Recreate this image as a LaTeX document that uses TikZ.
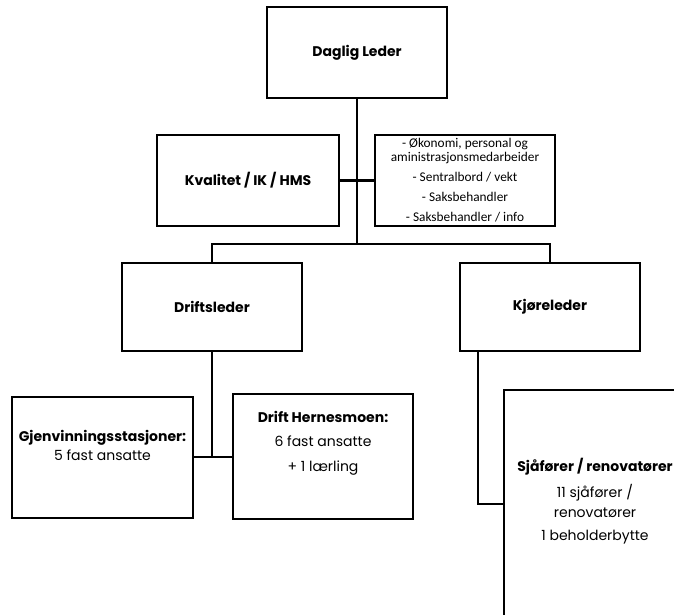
\documentclass[tikz,border=0pt]{standalone}
\usepackage{fontspec}
\setmainfont{Poppins}
\newfontfamily\calfont{Carlito}
\usetikzlibrary{positioning}

\begin{document}
\begin{tikzpicture}[x=0.75pt, y=-0.75pt,
    box/.style={draw=black, line width=2.2pt, fill=white, minimum width=135pt, minimum height=68.25pt, inner sep=0pt},
    txt/.style={font=\fontsize{10.5}{14.25}\selectfont, align=center, inner sep=0pt},
    stabtxt/.style={font=\calfont\fontsize{10}{10.5}\selectfont, align=center, inner sep=0pt},
    line/.style={black, line width=2.2pt}]
  \clip (0,0) rectangle (674,614);
  % boxes
  \node[box, txt] (leder) at (357,52.5) {\textbf{Daglig Leder}};
  \node[box, txt, minimum width=136.5pt] (kval) at (248,180.5) {\textbf{Kvalitet / IK / HMS}};
  \node[box] (stab) at (465,180.5) {};
  \node[box, txt, minimum height=66pt] (drift) at (212,307) {\textbf{Driftsleder}};
  \node[box, txt, minimum height=66pt] (kjore) at (550,307) {\textbf{Kjøreleder}};
  \node[box, minimum width=135.75pt, minimum height=90.75pt] (gjenv) at (102.5,457.5) {};
  \node[box, minimum height=93.75pt] (hernes) at (323,456.5) {};
  \node[box, minimum height=187.5pt] (sjafor) at (594,515) {};
  % texts
  \node[stabtxt] (stabtxt) at (465,180) {- Økonomi, personal og\\aministrasjonsmedarbeider\\[4.5pt]- Sentralbord / vekt\\[4.5pt]- Saksbehandler\\[4.5pt]- Saksbehandler / info};
  \node[txt] (gjenvtxt) at (102.5,445.5) {\textbf{Gjenvinningsstasjoner:}\\5 fast ansatte};
  \node[txt] (hernestxt) at (323,443) {\textbf{Drift Hernesmoen:}\\[4.2pt]6 fast ansatte\\[4.2pt]+ 1 lærling};
  \node[txt] (sjafortxt) at (595,501) {\textbf{Sjåfører / renovatører}\\[5.2pt]11 sjåfører /\\[0.8pt]renovatører\\[3pt]1 beholderbytte};
  % connectors
  \coordinate (bus) at (357,244);
  \coordinate (dsplit) at (212,457);
  \coordinate (kturn) at (478,504);
  \draw[line] (leder.south) -- (bus);
  \draw[line] (drift.north) |- (bus) -| (kjore.north);
  \draw[line] (kval.east) -- (stab.west);
  \draw[line] (drift.south) -- (dsplit);
  \draw[line] (gjenv.east |- dsplit) -- (hernes.west |- dsplit);
  \draw[line] (kjore.south -| kturn) -- (kturn) -- (kturn -| sjafor.west);
\end{tikzpicture}
\end{document}
